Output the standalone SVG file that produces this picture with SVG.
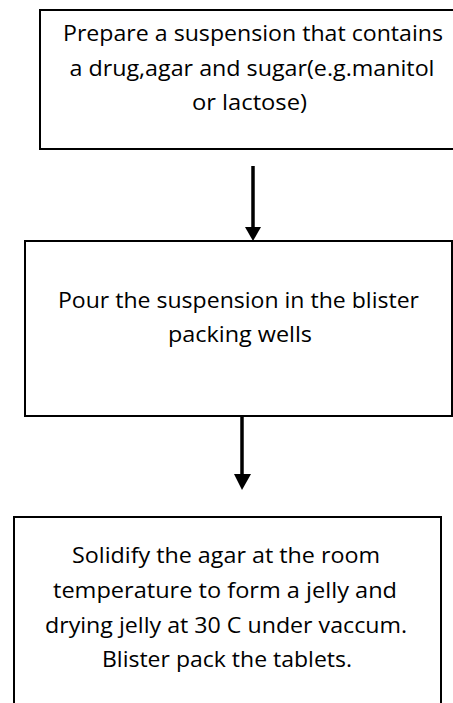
<svg xmlns="http://www.w3.org/2000/svg" width="453" height="703" viewBox="0 0 453 703">
<style>
.box{fill:#fff;stroke:#000;stroke-width:2}
.t{font-family:"Open Sans","Liberation Sans",sans-serif;font-size:21.5px;fill:#000;text-anchor:middle}
.c{stroke:#000;stroke-width:3.5;fill:none}
.h{fill:#000}
</style>
<rect width="453" height="703" fill="#fff"/>
<g id="node1">
<rect class="box" x="40" y="10" width="430" height="139"/>
<text class="t" x="253" y="41" textLength="380" lengthAdjust="spacingAndGlyphs">Prepare a suspension that contains</text>
<text class="t" x="252" y="76" textLength="365" lengthAdjust="spacingAndGlyphs">a drug,agar and sugar(e.g.manitol</text>
<text class="t" x="249.500" y="110" textLength="115" lengthAdjust="spacingAndGlyphs">or lactose)</text>
</g>
<g id="node2">
<rect class="box" x="25" y="241" width="427" height="175"/>
<text class="t" x="238.500" y="308" textLength="361" lengthAdjust="spacingAndGlyphs">Pour the suspension in the blister</text>
<text class="t" x="240" y="342" textLength="144" lengthAdjust="spacingAndGlyphs">packing wells</text>
</g>
<g id="node3">
<rect class="box" x="14" y="517" width="427" height="200"/>
<text class="t" x="226" y="563" textLength="308" lengthAdjust="spacingAndGlyphs">Solidify the agar at the room</text>
<text class="t" x="225" y="598" textLength="344" lengthAdjust="spacingAndGlyphs">temperature to form a jelly and</text>
<text class="t" x="226" y="633" textLength="362" lengthAdjust="spacingAndGlyphs">drying jelly at 30 C under vaccum.</text>
<text class="t" x="227" y="667" textLength="250" lengthAdjust="spacingAndGlyphs">Blister pack the tablets.</text>
</g>
<g id="connectors">
<line class="c" x1="253" y1="166" x2="253" y2="229"/>
<polygon class="h" points="245,227 261,227 253,241"/>
<line class="c" x1="242" y1="416" x2="242" y2="476"/>
<polygon class="h" points="234,474 251,474 242,490"/>
</g>
</svg>
